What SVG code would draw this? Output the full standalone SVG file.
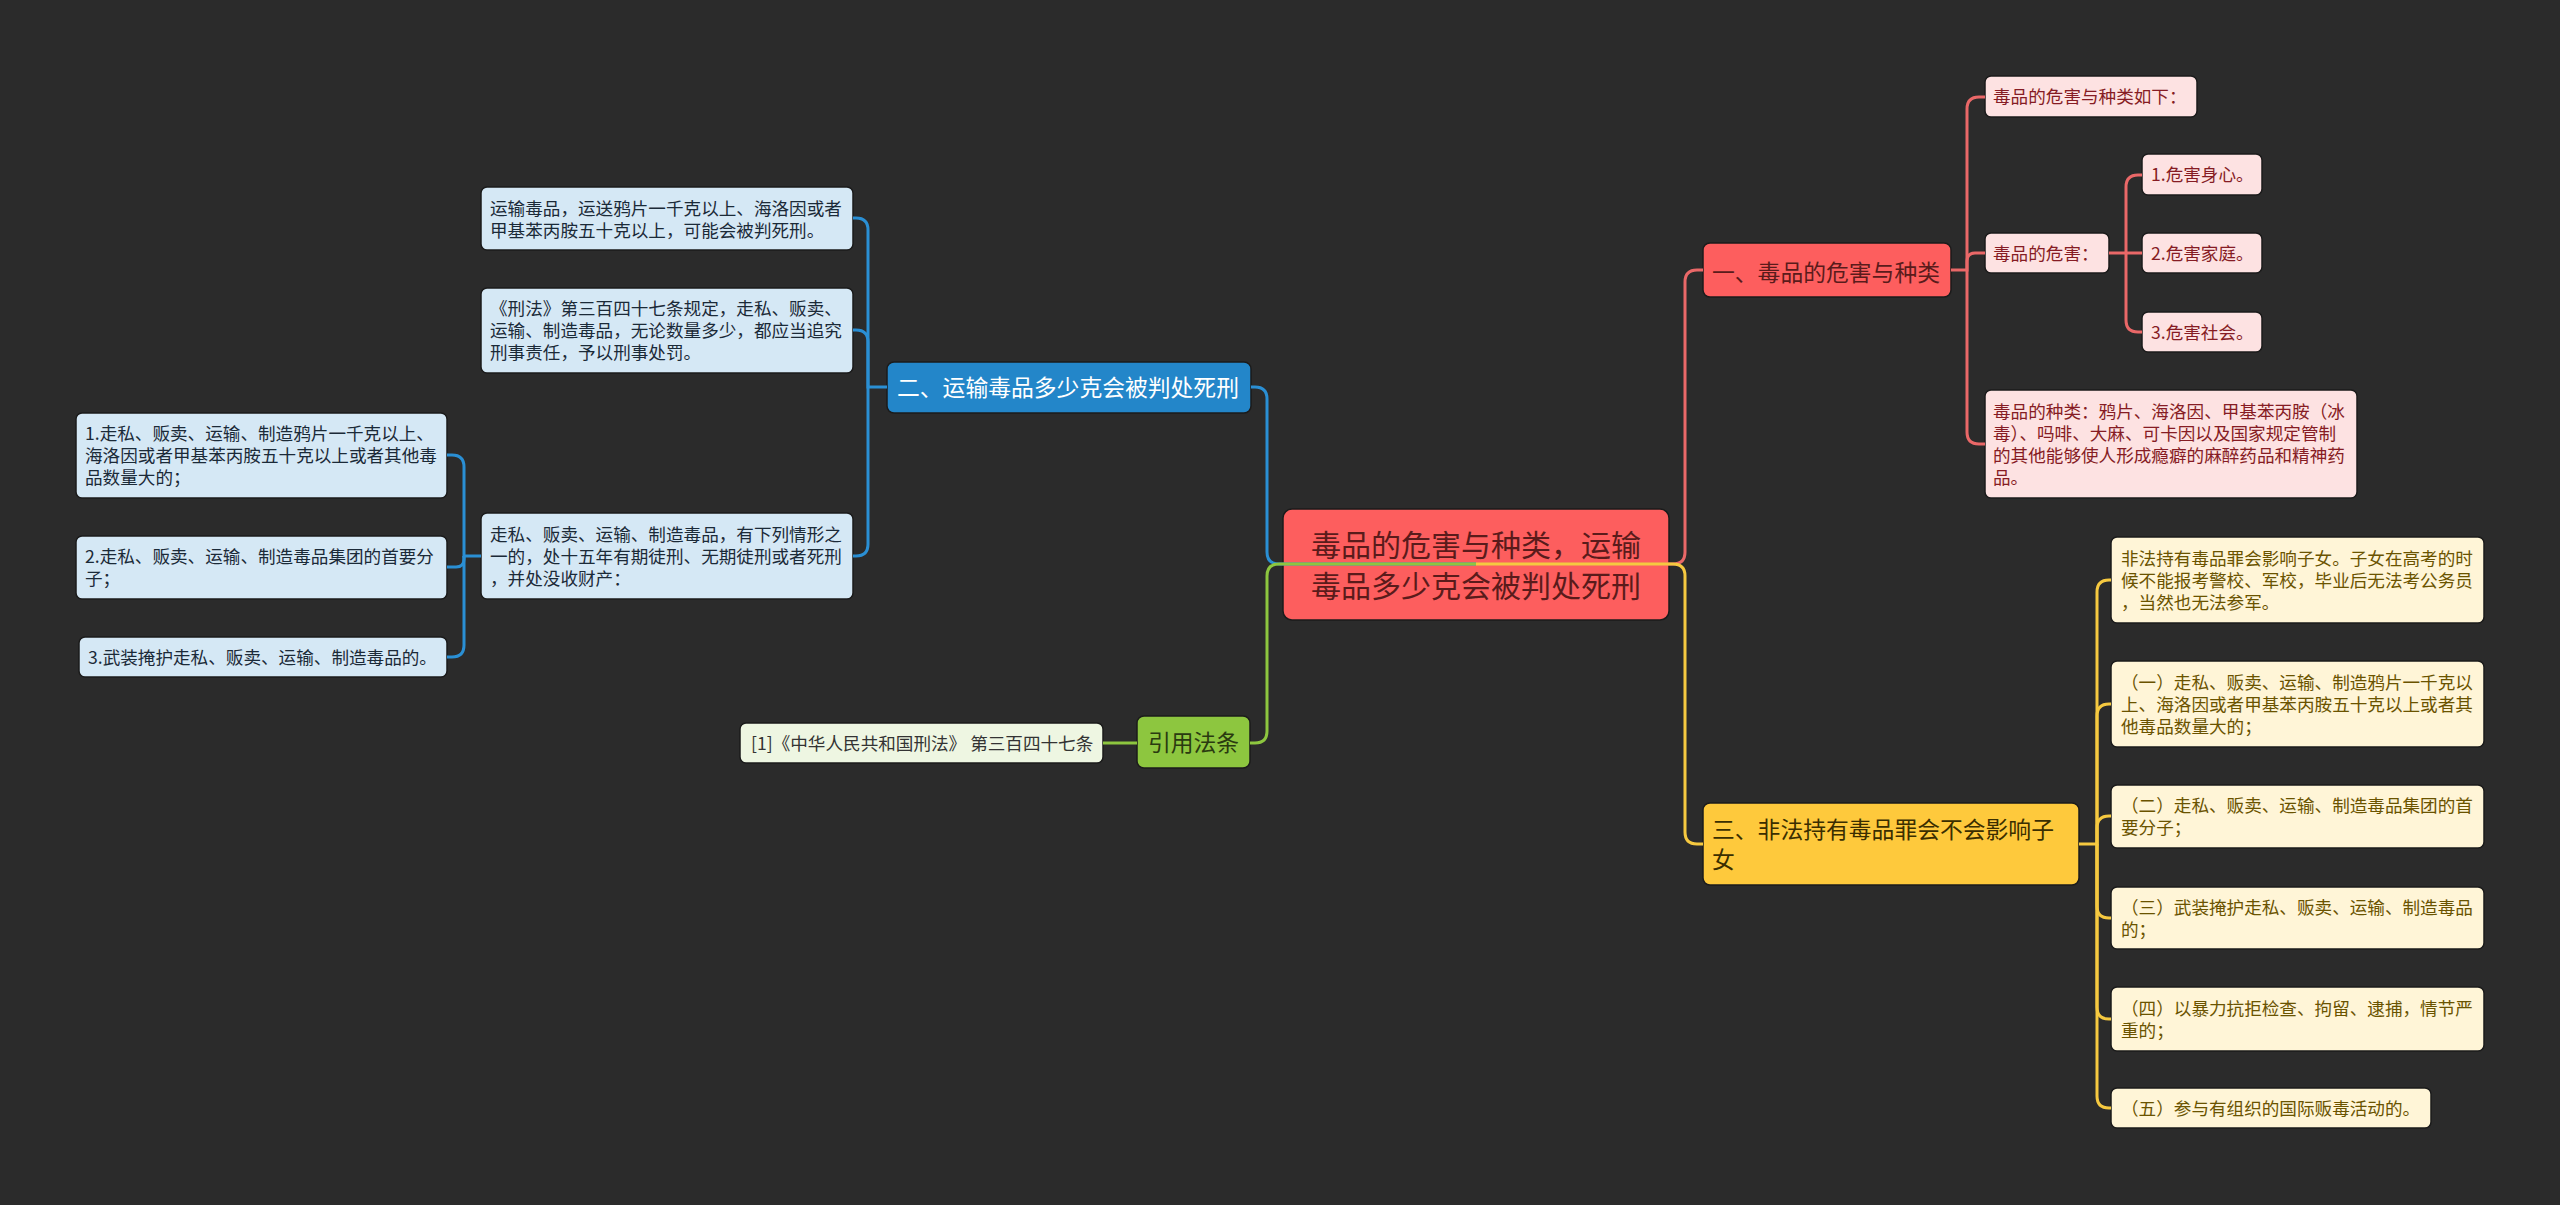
<svg xmlns="http://www.w3.org/2000/svg" width="2560" height="1205" viewBox="0 0 2560 1205">
<style>
text{font-family:"Noto Sans CJK SC","Liberation Sans",sans-serif;}
rect.n{stroke:#1b1b1b;stroke-width:1.5;}
.s{font-size:17.6px;}
.b{font-size:22.8px;}
.root{font-size:30px;fill:#5a1b1b;}
.red-main{fill:#fd5e5e;}
.red-sub{fill:#fde2e2;}
.red-t{fill:#861c24;}
.blue-main{fill:#2386c9;}
.blue-sub{fill:#d5e8f5;}
.blue-t{fill:#1b2a38;}
.yel-main{fill:#fec93c;}
.yel-sub{fill:#fff5d7;}
.yel-t{fill:#6a5300;}
.grn-main{fill:#8dc63f;}
.grn-sub{fill:#eef6e2;}
.c{fill:none;stroke-width:3;}
.cr{stroke:#ea6868;}
.cb{stroke:#2a8fd4;}
.cy{stroke:#f6c940;}
.cg{stroke:#8dc63f;}
</style>
<rect x="0" y="0" width="2560" height="1205" fill="#2b2b2b"/>

<g id="root">
<rect class="n red-main" x="1283" y="509" width="386" height="111" rx="9"/>
<text class="root" x="1476" y="556" text-anchor="middle">毒品的危害与种类，运输</text>
<text class="root" x="1476" y="597" text-anchor="middle">毒品多少克会被判处死刑</text>
</g>

<g id="n1">
<rect class="n red-main" x="1703" y="243" width="248" height="54" rx="7"/>
<text class="b" x="1712" y="280.5" fill="#5a1b1b">一、毒品的危害与种类</text>
</g>
<g id="n1a">
<rect class="n red-sub" x="1985" y="76" width="212" height="41" rx="6"/>
<text class="s red-t" x="1993" y="103">毒品的危害与种类如下：</text>
</g>
<g id="n1b">
<rect class="n red-sub" x="1985" y="233" width="124" height="40" rx="6"/>
<text class="s red-t" x="1993" y="259.5">毒品的危害：</text>
</g>
<g id="n1b1">
<rect class="n red-sub" x="2142" y="154" width="120" height="41" rx="6"/>
<text class="s red-t" x="2151" y="181">1.危害身心。</text>
</g>
<g id="n1b2">
<rect class="n red-sub" x="2142" y="233" width="120" height="40" rx="6"/>
<text class="s red-t" x="2151" y="259.5">2.危害家庭。</text>
</g>
<g id="n1b3">
<rect class="n red-sub" x="2142" y="312" width="120" height="40" rx="6"/>
<text class="s red-t" x="2151" y="338.5">3.危害社会。</text>
</g>
<g id="n1c">
<rect class="n red-sub" x="1985" y="390" width="372" height="108" rx="6"/>
<text class="s red-t" x="1993" y="417.5">毒品的种类：鸦片、海洛因、甲基苯丙胺（冰</text>
<text class="s red-t" x="1993" y="439.5">毒）、吗啡、大麻、可卡因以及国家规定管制</text>
<text class="s red-t" x="1993" y="461.5">的其他能够使人形成瘾癖的麻醉药品和精神药</text>
<text class="s red-t" x="1993" y="483.5">品。</text>
</g>

<g id="n3">
<rect class="n yel-main" x="1703" y="803" width="376" height="82" rx="7"/>
<text class="b" x="1712" y="837.5" fill="#3a2e00">三、非法持有毒品罪会不会影响子</text>
<text class="b" x="1712" y="867.5" fill="#3a2e00">女</text>
</g>
<g id="n3a">
<rect class="n yel-sub" x="2111" y="537" width="373" height="86" rx="6"/>
<text class="s yel-t" x="2121" y="564.5">非法持有毒品罪会影响子女。子女在高考的时</text>
<text class="s yel-t" x="2121" y="586.5">候不能报考警校、军校，毕业后无法考公务员</text>
<text class="s yel-t" x="2121" y="608.5">，当然也无法参军。</text>
</g>
<g id="n3b">
<rect class="n yel-sub" x="2111" y="661" width="373" height="86" rx="6"/>
<text class="s yel-t" x="2121" y="688.5">（一）走私、贩卖、运输、制造鸦片一千克以</text>
<text class="s yel-t" x="2121" y="710.5">上、海洛因或者甲基苯丙胺五十克以上或者其</text>
<text class="s yel-t" x="2121" y="732.5">他毒品数量大的；</text>
</g>
<g id="n3c">
<rect class="n yel-sub" x="2111" y="785" width="373" height="63" rx="6"/>
<text class="s yel-t" x="2121" y="812">（二）走私、贩卖、运输、制造毒品集团的首</text>
<text class="s yel-t" x="2121" y="834">要分子；</text>
</g>
<g id="n3d">
<rect class="n yel-sub" x="2111" y="887" width="373" height="62" rx="6"/>
<text class="s yel-t" x="2121" y="913.5">（三）武装掩护走私、贩卖、运输、制造毒品</text>
<text class="s yel-t" x="2121" y="935.5">的；</text>
</g>
<g id="n3e">
<rect class="n yel-sub" x="2111" y="987" width="373" height="64" rx="6"/>
<text class="s yel-t" x="2121" y="1014.5">（四）以暴力抗拒检查、拘留、逮捕，情节严</text>
<text class="s yel-t" x="2121" y="1036.5">重的；</text>
</g>
<g id="n3f">
<rect class="n yel-sub" x="2111" y="1088" width="320" height="40" rx="6"/>
<text class="s yel-t" x="2121" y="1114.5">（五）参与有组织的国际贩毒活动的。</text>
</g>

<g id="n2">
<rect class="n blue-main" x="887" y="362" width="364" height="51" rx="7"/>
<text class="b" x="897" y="396" fill="#ffffff">二、运输毒品多少克会被判处死刑</text>
</g>
<g id="n2a">
<rect class="n blue-sub" x="481" y="187" width="372" height="63" rx="6"/>
<text class="s blue-t" x="490" y="215">运输毒品，运送鸦片一千克以上、海洛因或者</text>
<text class="s blue-t" x="490" y="237">甲基苯丙胺五十克以上，可能会被判死刑。</text>
</g>
<g id="n2b">
<rect class="n blue-sub" x="481" y="288" width="372" height="85" rx="6"/>
<text class="s blue-t" x="490" y="315">《刑法》第三百四十七条规定，走私、贩卖、</text>
<text class="s blue-t" x="490" y="337">运输、制造毒品，无论数量多少，都应当追究</text>
<text class="s blue-t" x="490" y="359">刑事责任，予以刑事处罚。</text>
</g>
<g id="n2c">
<rect class="n blue-sub" x="481" y="513" width="372" height="86" rx="6"/>
<text class="s blue-t" x="490" y="540.5">走私、贩卖、运输、制造毒品，有下列情形之</text>
<text class="s blue-t" x="490" y="562.5">一的，处十五年有期徒刑、无期徒刑或者死刑</text>
<text class="s blue-t" x="490" y="584.5">，并处没收财产：</text>
</g>
<g id="n2c1">
<rect class="n blue-sub" x="76" y="413" width="371" height="85" rx="6"/>
<text class="s blue-t" x="85" y="440">1.走私、贩卖、运输、制造鸦片一千克以上、</text>
<text class="s blue-t" x="85" y="462">海洛因或者甲基苯丙胺五十克以上或者其他毒</text>
<text class="s blue-t" x="85" y="484">品数量大的；</text>
</g>
<g id="n2c2">
<rect class="n blue-sub" x="76" y="536" width="371" height="63" rx="6"/>
<text class="s blue-t" x="85" y="563">2.走私、贩卖、运输、制造毒品集团的首要分</text>
<text class="s blue-t" x="85" y="585">子；</text>
</g>
<g id="n2c3">
<rect class="n blue-sub" x="79" y="637" width="368" height="40" rx="6"/>
<text class="s blue-t" x="88" y="663.5">3.武装掩护走私、贩卖、运输、制造毒品的。</text>
</g>

<g id="n4">
<rect class="n grn-main" x="1137" y="716" width="113" height="52" rx="7"/>
<text class="b" x="1193.5" y="750.5" text-anchor="middle" fill="#2a3a10">引用法条</text>
</g>
<g id="n4a">
<rect class="n grn-sub" x="740" y="723" width="363" height="40" rx="6"/>
<text class="s" x="751" y="749.5" fill="#333333">[1]《中华人民共和国刑法》 第三百四十七条</text>
</g>

<g id="connectors">
<path class="c cb" d="M1476 564 H1279 Q1267 564 1267 552 V399 Q1267 387 1255 387 H1251"/>
<path class="c cb" d="M887 387 H868 V230 Q868 218 856 218 H853"/>
<path class="c cb" d="M868 387 V342 Q868 330 856 330 H853"/>
<path class="c cb" d="M868 387 V544 Q868 556 856 556 H853"/>
<path class="c cb" d="M481 556 H464 V467 Q464 455 452 455 H447"/>
<path class="c cb" d="M464 556 V559 Q464 567 456 567 H447"/>
<path class="c cb" d="M464 556 V645 Q464 657 452 657 H447"/>
<path class="c cg" d="M1476 564 H1279 Q1267 564 1267 576 V731 Q1267 743 1255 743 H1250"/>
<path class="c cg" d="M1137 743 H1103"/>
<path class="c cr" d="M1476 564 H1673 Q1685 564 1685 552 V282 Q1685 270 1697 270 H1703"/>
<path class="c cr" d="M1951 270 H1967 V109 Q1967 97 1979 97 H1985"/>
<path class="c cr" d="M1967 270 V261 Q1967 253 1975 253 H1985"/>
<path class="c cr" d="M1967 270 V432 Q1967 444 1979 444 H1985"/>
<path class="c cr" d="M2109 253 H2142"/>
<path class="c cr" d="M2126 253 V187 Q2126 175 2138 175 H2142"/>
<path class="c cr" d="M2126 253 V320 Q2126 332 2138 332 H2142"/>
<path class="c cy" d="M1476 564 H1673 Q1685 564 1685 576 V832 Q1685 844 1697 844 H1703"/>
<path class="c cy" d="M2079 844 H2097 V592 Q2097 580 2109 580 H2111"/>
<path class="c cy" d="M2097 844 V716 Q2097 704 2109 704 H2111"/>
<path class="c cy" d="M2097 844 V828 Q2097 816 2109 816 H2111"/>
<path class="c cy" d="M2097 844 V906 Q2097 918 2109 918 H2111"/>
<path class="c cy" d="M2097 844 V1007 Q2097 1019 2109 1019 H2111"/>
<path class="c cy" d="M2097 844 V1096 Q2097 1108 2109 1108 H2111"/>
</g>
</svg>
